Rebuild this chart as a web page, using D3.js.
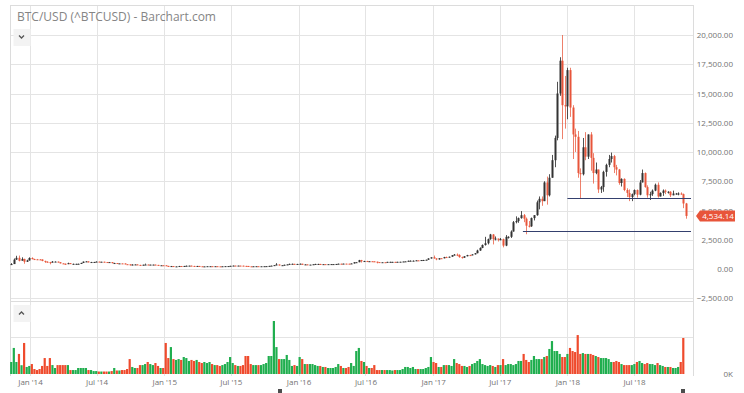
<!DOCTYPE html>
<html>
<head>
<meta charset="utf-8">
<script src="https://cdn.jsdelivr.net/npm/d3@7"></script>
<style>
  body { margin: 0; background: #fff; }
  svg { display: block; }
  text { font-family: "Open Sans", sans-serif; }
</style>
</head>
<body>
<div id="chart"></div>
<script>
// weekly BTC/USD bars, Nov 2013 .. Nov 2018
const firstWeek = new Date(2013, 10, 11)
const firstOpen = 350

const closes = [
  420, 800, 955, 700, 860, 620, 730, 940,
  850, 830, 820, 810, 690, 620, 590, 560, 630, 630, 580, 480, 450, 420, 500, 440, 440, 440, 445, 520, 630, 650, 590, 595, 600, 630, 620, 620,
  595, 590, 590, 500, 510, 480, 480, 475, 410, 400, 330, 380, 390, 350, 325, 365, 380, 370, 375, 375, 350, 320, 320, 315,
  265, 210, 250, 225, 225, 255, 240, 260, 275, 285, 260, 250, 260, 235, 220, 225, 240, 240, 237, 240, 230, 225, 235, 245, 250, 270,
  290, 275, 290, 285, 265, 260, 230, 228, 235, 240, 232, 235, 240, 245, 265, 285, 330, 385, 320, 325, 360, 390, 435, 440, 420, 430,
  448, 387, 395, 375, 375, 405, 430, 430, 410, 415, 410, 415, 420, 420, 430, 450, 445, 460, 455, 445, 475, 575, 580, 760, 660, 680,
  650, 665, 655, 625, 590, 570, 580, 575, 610, 610, 610, 605, 615, 620, 640, 655, 700, 705, 705, 740, 735, 765, 770, 790, 900, 1000,
  905, 820, 920, 915, 1020, 1000, 1050, 1180, 1230, 1200, 1020, 970, 1090, 1190, 1170, 1250, 1350, 1580, 1800, 2050, 2200, 2550, 2950, 2550, 2600, 2500,
  2550, 2000, 2750, 2750, 3200, 4000, 4100, 4350, 4600, 4300, 3700, 3650, 4350, 4600, 5700, 6000, 5800, 7400, 6300, 7800, 9300, 11200, 15000, 17800, 14000, 13900,
  17000, 13800, 11500, 11300, 8200, 8100, 10400, 9600, 11500, 9500, 8200, 8500, 6800, 7000, 8300, 8900, 9400, 9650, 8700, 8500, 7350, 7700, 6750, 6500,
  6150, 6400, 6750, 6350, 7400, 8200, 7000, 6300, 6400, 6700, 7200, 6200, 6500, 6700, 6600, 6600, 6300, 6450, 6450, 6450, 6400, 5600, 4534.14
]

const highs = [
  500, 900, 1130, 1150, 1000, 880, 790, 1000,
  1000, 880, 860, 850, 830, 710, 660, 610, 680, 660, 640, 590, 490, 470, 540, 510, 460, 450, 460, 530, 640, 680, 660, 610, 610, 650, 640, 630,
  625, 600, 600, 595, 530, 515, 490, 485, 480, 420, 400, 400, 410, 395, 360, 370, 460, 390, 385, 385, 380, 355, 335, 325,
  320, 270, 260, 255, 240, 265, 260, 265, 295, 295, 290, 270, 265, 262, 240, 230, 245, 245, 245, 245, 242, 232, 238, 255, 252, 275,
  300, 295, 295, 298, 288, 270, 262, 235, 240, 245, 242, 240, 242, 248, 270, 295, 335, 500, 390, 340, 370, 400, 460, 465, 445, 440,
  465, 450, 420, 400, 380, 410, 445, 445, 440, 420, 420, 420, 425, 425, 432, 462, 468, 465, 462, 458, 480, 580, 600, 780, 780, 700,
  700, 680, 675, 660, 630, 595, 585, 585, 615, 630, 615, 612, 620, 625, 645, 660, 720, 740, 740, 755, 750, 770, 780, 800, 920, 1000,
  1150, 915, 930, 930, 1040, 1060, 1060, 1190, 1280, 1330, 1260, 1060, 1100, 1210, 1220, 1260, 1360, 1650, 1850, 2100, 2750, 2600, 3000, 2990, 2780, 2600,
  2650, 2600, 2900, 2800, 3300, 4100, 4500, 4400, 4950, 4700, 4400, 4100, 4400, 4600, 5850, 6200, 6200, 7500, 7900, 8100, 9750, 11400, 16000, 18100, 20000, 16500,
  17200, 17200, 14000, 12000, 11800, 8600, 11200, 11700, 11500, 11700, 9900, 9100, 8500, 7100, 8400, 9000, 9750, 9950, 9750, 8900, 8550, 7750, 7750, 6900,
  6800, 6450, 6800, 6800, 7600, 8500, 8250, 7150, 6600, 6800, 7300, 7400, 6550, 6800, 6800, 6650, 6650, 6700, 6500, 6550, 6550, 6450, 5650
]

const lows = [
  340, 480, 780, 650, 750, 450, 600, 720,
  820, 800, 790, 780, 660, 520, 560, 400, 550, 610, 570, 470, 440, 360, 410, 430, 420, 420, 430, 440, 510, 620, 560, 560, 580, 600, 610, 610,
  590, 580, 570, 480, 490, 470, 470, 460, 400, 390, 290, 320, 370, 345, 320, 320, 360, 355, 365, 360, 345, 310, 315, 300,
  260, 170, 205, 220, 215, 220, 230, 235, 255, 270, 255, 240, 240, 230, 215, 215, 222, 232, 232, 233, 225, 220, 222, 232, 240, 248,
  265, 270, 272, 280, 260, 255, 200, 200, 225, 230, 228, 228, 232, 236, 244, 265, 280, 325, 300, 310, 320, 355, 385, 430, 410, 415,
  425, 360, 375, 365, 365, 370, 400, 405, 400, 405, 405, 408, 412, 415, 418, 428, 440, 440, 445, 436, 440, 470, 560, 580, 550, 600,
  630, 640, 650, 620, 480, 565, 565, 570, 570, 605, 600, 595, 600, 610, 615, 635, 650, 690, 690, 700, 725, 730, 760, 770, 785, 890,
  880, 750, 800, 880, 910, 940, 980, 1050, 1170, 1100, 960, 890, 950, 1080, 1150, 1170, 1240, 1340, 1550, 1780, 2000, 2100, 2500, 2100, 2450, 2350,
  2450, 1850, 1950, 2600, 2650, 3200, 3900, 3950, 4300, 4000, 2970, 3550, 3600, 4150, 4550, 5100, 5400, 5800, 5500, 6200, 7800, 8700, 11000, 14800, 11100, 12000,
  12800, 13000, 9400, 10000, 7800, 6000, 8000, 9300, 9400, 8400, 7300, 8100, 6500, 6500, 6600, 7900, 8700, 9100, 8200, 8000, 7200, 7050, 6650, 6150,
  5800, 5800, 6300, 6100, 6300, 7400, 6950, 6100, 5900, 6250, 6650, 6100, 6200, 6250, 6400, 6450, 6150, 6300, 6350, 6300, 6350, 5200, 4300
]

// weekly volume, thousands
const volumes = [
  82, 178, 82, 137, 60, 212, 48, 55,
  68, 34, 27, 34, 55, 109, 55, 109, 61, 41, 61, 61, 61, 61, 61, 27, 27, 27, 41, 41, 41, 41, 27, 27, 20, 20, 17, 17,
  17, 17, 17, 20, 41, 24, 24, 27, 27, 34, 102, 48, 41, 41, 61, 61, 68, 82, 68, 61, 75, 55, 41,
  41, 212, 109, 184, 102, 96, 102, 96, 116, 109, 89, 96, 89, 96, 82, 75, 82, 75, 82, 68, 61, 61, 55, 61, 68, 82,
  116, 75, 61, 55, 55, 61, 123, 123, 68, 61, 61, 61, 61, 68, 75, 123, 123, 362, 184, 102, 102, 102, 130, 96, 55, 61,
  55, 116, 102, 68, 68, 68, 68, 61, 55, 55, 48, 48, 41, 41, 41, 48, 68, 55, 41, 41, 48, 75, 55, 157, 178, 89,
  82, 55, 41, 41, 61, 27, 27, 27, 27, 27, 27, 24, 27, 27, 27, 34, 48, 48, 41, 48, 34, 34, 34, 34, 41, 48,
  116, 82, 75, 48, 48, 61, 61, 61, 55, 102, 75, 68, 55, 55, 48, 55, 68, 75, 89, 102, 68, 61, 55, 61, 55, 48,
  61, 61, 102, 61, 68, 68, 61, 68, 89, 89, 137, 96, 82, 96, 123, 102, 102, 102, 116, 123, 171, 225, 157, 157, 137, 116,
  116, 137, 178, 157, 150, 266, 137, 143, 137, 137, 137, 130, 123, 116, 109, 109, 109, 102, 82, 82, 89, 82, 68, 61,
  61, 61, 61, 68, 82, 89, 75, 68, 75, 68, 68, 61, 75, 61, 55, 48, 48, 48, 41, 41, 48, 82, 246
]

const priceTicks = [-2500, 0, 2500, 5000, 7500, 10000, 12500, 15000, 17500, 20000]
const dateTicks = ['2014-01-01', '2014-07-01', '2015-01-01', '2015-07-01', '2016-01-01',
  '2016-07-01', '2017-01-01', '2017-07-01', '2018-01-01', '2018-07-01']
const levelValues = [6070, 3250]
const levelStarts = ['2018-01-01', '2017-09-02']
const volumeGrid = [250]

const width = 744
const height = 393
const plotLeft = 10
const plotRight = 693
const plotTop = 5
const paneSplit = 300
const volBase = 374

const upColor = '#333333'
const downColor = '#e8553a'
const volUp = '#1fae4e'
const volDown = '#ef4a2c'
const gridColor = '#e4e4e4'
const labelColor = '#737373'

const parseDay = d3.timeParse('%Y-%m-%d')

const bars = closes.map((c, i) => ({
  date: d3.timeDay.offset(firstWeek, 7 * i),
  open: i ? closes[i - 1] : firstOpen,
  high: highs[i],
  low: lows[i],
  close: c,
  volume: volumes[i]
}))

const x = d3.scaleTime()
  .domain([new Date(2014, 0, 1), new Date(2018, 6, 1)])
  .range([30, 634])
const yPrice = d3.scaleLinear().domain([0, 20000]).range([269, 35])
const yVol = d3.scaleLinear().domain([0, 250]).range([volBase, 337.4])

const svg = d3.select('#chart').append('svg')
  .attr('width', width)
  .attr('height', height)

svg.append('rect').attr('width', width).attr('height', height).attr('fill', '#fff')

const defs = svg.append('defs')
defs.append('clipPath').attr('id', 'priceClip')
  .append('rect')
  .attr('x', plotLeft).attr('y', plotTop)
  .attr('width', plotRight - plotLeft).attr('height', paneSplit - plotTop)

// grid
const grid = svg.append('g').attr('shape-rendering', 'crispEdges')
grid.selectAll('line.v')
  .data(dateTicks.map(parseDay))
  .join('line')
  .attr('class', 'v')
  .attr('x1', d => Math.round(x(d)) + 0.5).attr('x2', d => Math.round(x(d)) + 0.5)
  .attr('y1', plotTop).attr('y2', volBase + 2)
  .attr('stroke', gridColor)

grid.selectAll('line.h')
  .data(priceTicks)
  .join('line')
  .attr('class', 'h')
  .attr('x1', plotLeft).attr('x2', plotRight)
  .attr('y1', d => Math.round(yPrice(d)) + 0.5).attr('y2', d => Math.round(yPrice(d)) + 0.5)
  .attr('stroke', gridColor)

grid.selectAll('line.hv')
  .data(volumeGrid)
  .join('line')
  .attr('class', 'hv')
  .attr('x1', plotLeft).attr('x2', plotRight)
  .attr('y1', d => Math.round(yVol(d)) + 0.5).attr('y2', d => Math.round(yVol(d)) + 0.5)
  .attr('stroke', gridColor)

// pane borders
grid.append('path')
  .attr('d', `M${plotLeft + 0.5},${volBase + 2}V${plotTop + 0.5}H${plotRight + 0.5}V${volBase + 2}`)
  .attr('fill', 'none').attr('stroke', '#dcdcdc')
grid.append('line')
  .attr('x1', plotLeft).attr('x2', plotRight)
  .attr('y1', paneSplit + 1.5).attr('y2', paneSplit + 1.5)
  .attr('stroke', '#dcdcdc')

// candles
const price = svg.append('g').attr('clip-path', 'url(#priceClip)')
const candle = price.selectAll('g.candle')
  .data(bars)
  .join('g')
  .attr('class', 'candle')
  .attr('transform', d => `translate(${Math.round(x(d.date))},0)`)

candle.append('line')
  .attr('x1', 0.5).attr('x2', 0.5)
  .attr('y1', d => yPrice(d.high)).attr('y2', d => yPrice(d.low))
  .attr('stroke', d => d.close >= d.open ? upColor : downColor)
  .attr('stroke-opacity', d => d.close >= d.open ? 0.85 : 0.75)
  .attr('stroke-width', 1)

candle.append('rect')
  .attr('x', -0.5)
  .attr('width', 2)
  .attr('y', d => yPrice(Math.max(d.open, d.close)))
  .attr('height', d => Math.max(1, Math.abs(yPrice(d.open) - yPrice(d.close))))
  .attr('fill', d => d.close >= d.open ? upColor : downColor)

// drawn horizontal levels
svg.append('g').selectAll('line')
  .data(levelValues.map((v, i) => ({ v, start: parseDay(levelStarts[i]) })))
  .join('line')
  .attr('x1', d => x(d.start)).attr('x2', plotRight - 2)
  .attr('y1', d => Math.round(yPrice(d.v)) + 0.5).attr('y2', d => Math.round(yPrice(d.v)) + 0.5)
  .attr('stroke', '#34406e')
  .attr('stroke-width', 1)

// volume
svg.append('g').selectAll('rect')
  .data(bars)
  .join('rect')
  .attr('x', d => x(d.date) - 1.1)
  .attr('width', 2.2)
  .attr('y', d => yVol(d.volume))
  .attr('height', d => volBase - yVol(d.volume))
  .attr('fill', d => d.close >= d.open ? volUp : volDown)

// right price axis
const priceAxis = svg.append('g')
  .attr('transform', `translate(${plotRight},0)`)
  .call(d3.axisRight(yPrice).tickValues(priceTicks).tickSize(0).tickFormat(d3.format(',.2f')))
priceAxis.select('.domain').remove()
priceAxis.selectAll('text')
  .attr('x', 40)
  .attr('text-anchor', 'end')
  .attr('fill', labelColor)
  .style('font-size', '8px')
  .style('font-family', '"Open Sans", sans-serif')

const volAxis = svg.append('g')
  .attr('transform', `translate(${plotRight},0)`)
  .call(d3.axisRight(yVol).tickValues([0]).tickSize(0).tickFormat(d => d + 'K'))
volAxis.select('.domain').remove()
volAxis.selectAll('text')
  .attr('x', 40)
  .attr('text-anchor', 'end')
  .attr('fill', labelColor)
  .style('font-size', '8px')
  .style('font-family', '"Open Sans", sans-serif')

// bottom date axis
const dateAxis = svg.append('g')
  .attr('transform', `translate(0,${volBase + 2})`)
  .call(d3.axisBottom(x).tickValues(dateTicks.map(parseDay)).tickSize(0).tickPadding(3)
    .tickFormat(d3.timeFormat("%b '%y")))
dateAxis.select('.domain').remove()
dateAxis.selectAll('text')
  .attr('fill', labelColor)
  .style('font-size', '8px')
  .style('font-family', '"Open Sans", sans-serif')

// last value tags
function valueTag(yPos, left, right, label) {
  const g = svg.append('g')
  const h = 11
  g.append('path')
    .attr('d', `M${left},${yPos} L${left + 4},${yPos - h / 2} H${right} V${yPos + h / 2} H${left + 4} Z`)
    .attr('fill', downColor)
  g.append('text')
    .attr('x', (left + 4 + right) / 2 + 0.5)
    .attr('y', yPos)
    .attr('dy', '0.35em')
    .attr('text-anchor', 'middle')
    .attr('fill', '#fff')
    .style('font-size', '8px')
    .text(label)
}
const last = bars[bars.length - 1]
valueTag(yPrice(last.close), 696, 735, d3.format(',.2f')(last.close))
valueTag(yVol(last.volume), 711, 734, Math.round(last.volume) + 'K')

// title
svg.append('text')
  .attr('x', 17).attr('y', 21)
  .attr('fill', '#858585')
  .style('font-size', '12px')
  .text('BTC/USD (^BTCUSD) - Barchart.com')

// collapse buttons
function chevron(cx, cy, up) {
  const g = svg.append('g')
  g.append('rect')
    .attr('x', cx - 8).attr('y', cy - 8).attr('width', 17).attr('height', 17)
    .attr('fill', '#f3f3f3')
  const d = up ? 1 : -1
  g.append('path')
    .attr('d', `M${cx - 2.5},${cy + 1.5 * d} L${cx},${cy - 1 * d} L${cx + 2.5},${cy + 1.5 * d}`)
    .attr('fill', 'none').attr('stroke', '#555').attr('stroke-width', 1.3)
}
chevron(21.5, 37, false)
chevron(21.5, 313, true)

// scroll handles
svg.append('g').selectAll('rect')
  .data([280, 683])
  .join('rect')
  .attr('x', d => d - 2).attr('y', 389).attr('width', 4).attr('height', 4)
  .attr('fill', '#4d4d4d')
</script>
</body>
</html>
